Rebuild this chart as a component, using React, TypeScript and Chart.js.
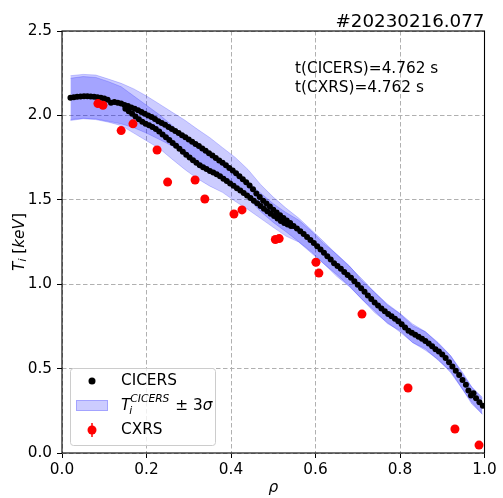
import React, { useEffect, useRef } from "react";
import { Chart, registerables } from "chart.js";
Chart.register(...registerables);

const FONT = '"DejaVu Sans", sans-serif';

const xTicks = [0, 0.2, 0.4, 0.6, 0.8, 1.0];
const yTicks = [0, 0.5, 1.0, 1.5, 2.0, 2.5];

const titleText = "#20230216.077";
const timeLabels = ["t(CICERS)=4.762 s", "t(CXRS)=4.762 s"];

// CICERS profile, channel A (upper row)
const cicersRhoA = [0.020,0.028,0.036,0.044,0.052,0.060,0.068,0.076,0.084,0.092,0.100,0.108,0.116,0.124,0.132,0.140,0.148,0.156,0.164,0.172,0.180,0.188,0.196,0.204,0.212,0.220,0.228,0.236,0.244,0.252,0.260,0.268,0.276,0.284,0.292,0.300,0.308,0.316,0.324,0.332,0.340,0.348,0.356,0.364,0.372,0.380,0.388,0.396,0.404,0.412,0.420,0.428,0.436,0.444,0.452,0.460,0.468,0.476,0.484,0.492,0.500,0.508,0.516,0.524,0.532,0.540,0.548,0.556,0.564,0.572,0.580,0.588,0.596,0.604,0.612,0.620,0.628,0.636,0.644,0.652,0.660,0.668,0.676,0.684,0.692,0.700,0.708,0.716,0.724,0.732,0.740,0.748,0.756,0.764,0.772,0.780,0.788,0.796,0.804,0.812,0.820,0.828,0.836,0.844,0.852,0.860,0.868,0.876,0.884,0.892,0.900,0.908,0.916,0.924,0.932,0.940,0.948,0.956,0.962,0.968,0.974,0.980,0.988,0.996];
const cicersTiA = [2.105,2.108,2.110,2.112,2.113,2.113,2.112,2.110,2.108,2.105,2.100,2.092,2.075,2.080,2.075,2.070,2.062,2.055,2.047,2.040,2.030,2.020,2.010,2.000,1.990,1.978,1.966,1.955,1.944,1.932,1.920,1.908,1.895,1.882,1.870,1.857,1.844,1.831,1.818,1.804,1.790,1.776,1.762,1.748,1.733,1.719,1.704,1.689,1.673,1.657,1.640,1.622,1.604,1.585,1.562,1.538,1.516,1.495,1.478,1.460,1.441,1.425,1.408,1.392,1.377,1.362,1.345,1.330,1.313,1.297,1.280,1.262,1.244,1.225,1.205,1.186,1.165,1.146,1.124,1.108,1.092,1.073,1.055,1.038,1.018,0.997,0.976,0.955,0.933,0.912,0.892,0.874,0.856,0.840,0.824,0.810,0.796,0.780,0.763,0.744,0.724,0.712,0.700,0.689,0.677,0.664,0.649,0.632,0.615,0.601,0.584,0.563,0.538,0.513,0.488,0.462,0.432,0.405,0.371,0.340,0.354,0.325,0.300,0.280];

// CICERS profile, channel B (lower row, core region)
const cicersRhoB = [0.150,0.158,0.166,0.174,0.182,0.190,0.198,0.206,0.214,0.222,0.230,0.238,0.246,0.254,0.262,0.270,0.278,0.286,0.294,0.302,0.310,0.318,0.326,0.334,0.342,0.350,0.358,0.366,0.374,0.382,0.390,0.398,0.406,0.414,0.422,0.430,0.438,0.446,0.454,0.462,0.470,0.478,0.486,0.494,0.502,0.510,0.518,0.526,0.534,0.542];
const cicersTiB = [2.040,2.025,2.010,1.993,1.977,1.962,1.950,1.942,1.932,1.920,1.905,1.887,1.870,1.855,1.837,1.820,1.803,1.785,1.767,1.750,1.735,1.720,1.705,1.693,1.682,1.671,1.661,1.651,1.639,1.625,1.611,1.597,1.583,1.568,1.555,1.541,1.526,1.511,1.495,1.480,1.463,1.447,1.432,1.418,1.404,1.389,1.375,1.362,1.353,1.345];

// CXRS
const cxrsRho = [0.085,0.097,0.140,0.168,0.225,0.250,0.315,0.338,0.407,0.426,0.505,0.514,0.601,0.608,0.710,0.819,0.930,0.987];
const cxrsTi = [2.07,2.06,1.91,1.95,1.795,1.605,1.617,1.505,1.416,1.44,1.265,1.27,1.13,1.066,0.823,0.385,0.142,0.047];

// ±3σ bands
const bandRho = [0.02,0.05,0.08,0.11,0.14,0.17,0.20,0.23,0.26,0.29,0.32,0.35,0.38,0.41,0.44,0.47,0.50,0.53,0.56,0.59,0.62,0.65,0.68,0.71,0.74,0.77,0.80,0.83,0.86,0.89,0.92,0.95,0.97,0.995];
const bandAHi = [2.235,2.243,2.239,2.215,2.19,2.157,2.115,2.068,2.02,1.973,1.919,1.868,1.809,1.751,1.68,1.591,1.516,1.451,1.392,1.322,1.251,1.177,1.106,1.031,0.952,0.883,0.827,0.764,0.719,0.655,0.576,0.47,0.39,0.33];
const bandALo = [1.975,1.983,1.979,1.965,1.95,1.927,1.895,1.858,1.82,1.773,1.729,1.678,1.629,1.571,1.51,1.431,1.366,1.311,1.252,1.192,1.121,1.047,0.986,0.911,0.832,0.773,0.717,0.654,0.609,0.555,0.476,0.37,0.29,0.23];
const bandBHi = [2.22,2.23,2.225,2.20,2.17,2.115,2.06,2.005,1.942,1.871,1.806,1.761,1.714,1.661,1.603,1.54,1.477,1.425,1.38,1.315,1.24,1.178,1.11,1.02,0.952,0.877,0.825,0.754,0.718,0.65,0.575,0.46,0.39,0.32];
const bandBLo = [1.97,1.98,1.975,1.96,1.94,1.895,1.85,1.805,1.742,1.681,1.626,1.581,1.544,1.491,1.443,1.39,1.337,1.285,1.25,1.185,1.12,1.058,0.99,0.91,0.842,0.767,0.725,0.654,0.618,0.55,0.485,0.37,0.30,0.23];

const pts = (xs: number[], ys: number[]) => xs.map((x, i) => ({ x, y: ys[i] }));

const BAND_FILL = "rgba(0,0,255,0.2)";

const overlay = {
  id: "overlay",
  afterDraw(chart: any) {
    const { ctx, chartArea: a } = chart;
    ctx.save();
    // frame
    ctx.strokeStyle = "#000";
    ctx.lineWidth = 1.1;
    ctx.strokeRect(a.left, a.top, a.right - a.left, a.bottom - a.top);

    ctx.fillStyle = "#000";
    // title
    ctx.font = `18.3px ${FONT}`;
    ctx.textAlign = "right";
    ctx.textBaseline = "alphabetic";
    ctx.fillText(titleText, a.right, a.top - 4);

    // time annotations
    ctx.font = `15.3px ${FONT}`;
    ctx.textAlign = "left";
    ctx.fillText(timeLabels[0], 295, 73);
    ctx.fillText(timeLabels[1], 295, 92);

    // x label
    ctx.font = `italic 15.3px ${FONT}`;
    ctx.textAlign = "center";
    ctx.textBaseline = "middle";
    ctx.fillText("ρ", (a.left + a.right) / 2, 488);

    // y label: T_i [keV]
    ctx.save();
    ctx.translate(20, (a.top + a.bottom) / 2);
    ctx.rotate(-Math.PI / 2);
    const parts: [string, string, number][] = [
      ["T", `italic 15.3px ${FONT}`, 0],
      ["i", `italic 10.7px ${FONT}`, 3.5],
      [" [", `15.3px ${FONT}`, 0],
      ["keV", `italic 15.3px ${FONT}`, 0],
      ["]", `15.3px ${FONT}`, 0],
    ];
    let total = 0;
    for (const [t, f] of parts) { ctx.font = f; total += ctx.measureText(t).width; }
    let cx = -total / 2;
    ctx.textAlign = "left";
    ctx.textBaseline = "middle";
    for (const [t, f, dy] of parts) {
      ctx.font = f;
      ctx.fillText(t, cx, dy);
      cx += ctx.measureText(t).width;
    }
    ctx.restore();

    // legend
    const lx = 70, ly = 368, lw = 145, lh = 77;
    ctx.beginPath();
    if ((ctx as any).roundRect) (ctx as any).roundRect(lx + 0.5, ly + 0.5, lw, lh, 3);
    else ctx.rect(lx + 0.5, ly + 0.5, lw, lh);
    ctx.fillStyle = "rgba(255,255,255,0.8)";
    ctx.fill();
    ctx.strokeStyle = "#cccccc";
    ctx.lineWidth = 1;
    ctx.stroke();

    const tx = 121;
    const rows = [381, 406, 430];
    // CICERS marker
    ctx.fillStyle = "#000";
    ctx.beginPath();
    ctx.arc(92, rows[0], 3.5, 0, Math.PI * 2);
    ctx.fill();
    ctx.font = `15.3px ${FONT}`;
    ctx.textAlign = "left";
    ctx.textBaseline = "middle";
    ctx.fillText("CICERS", tx, rows[0]);

    // band patch
    ctx.fillStyle = BAND_FILL;
    ctx.fillRect(76, 400, 32, 11);
    ctx.strokeStyle = BAND_FILL;
    ctx.strokeRect(76.5, 400.5, 31, 10);
    ctx.fillStyle = "#000";
    let px = tx;
    ctx.font = `italic 15.3px ${FONT}`;
    ctx.fillText("T", px, rows[1]);
    px += ctx.measureText("T").width - 1;
    ctx.font = `italic 10.7px ${FONT}`;
    ctx.fillText("i", px, rows[1] + 5);
    ctx.fillText("CICERS", px + 1, rows[1] - 7);
    px += ctx.measureText("CICERS").width + 2;
    ctx.font = `15.3px ${FONT}`;
    ctx.fillText(" ± 3", px, rows[1]);
    px += ctx.measureText(" ± 3").width;
    ctx.font = `italic 15.3px ${FONT}`;
    ctx.fillText("σ", px, rows[1]);

    // CXRS marker with error bar
    ctx.strokeStyle = "#ff0000";
    ctx.lineWidth = 1.5;
    ctx.beginPath();
    ctx.moveTo(92, rows[2] - 7);
    ctx.lineTo(92, rows[2] + 7);
    ctx.stroke();
    ctx.fillStyle = "#ff0000";
    ctx.beginPath();
    ctx.arc(92, rows[2], 4.5, 0, Math.PI * 2);
    ctx.fill();
    ctx.fillStyle = "#000";
    ctx.font = `15.3px ${FONT}`;
    ctx.fillText("CXRS", tx, rows[2]);

    ctx.restore();
  },
};

export default function App() {
  const ref = useRef<HTMLCanvasElement | null>(null);
  useEffect(() => {
    if (!ref.current) return;
    const bandLine = (data: any[], fill: any) => ({
      type: "line" as const,
      data,
      showLine: true,
      pointRadius: 0,
      borderWidth: 1,
      borderColor: BAND_FILL,
      backgroundColor: BAND_FILL,
      fill,
      tension: 0,
    });
    const gridCommon = {
      color: "#b0b0b0",
      lineWidth: 1,
      tickColor: "#000",
      tickLength: 5,
      tickWidth: 1,
      tickBorderDash: [],
      borderDash: [4.5, 2.5],
    };
    const chart = new Chart(ref.current, {
      type: "scatter",
      data: {
        datasets: [
          {
            label: "CXRS",
            data: pts(cxrsRho, cxrsTi),
            pointRadius: 4.5,
            backgroundColor: "#ff0000",
            borderWidth: 0,
          },
          {
            label: "CICERS",
            data: [...pts(cicersRhoA, cicersTiA), ...pts(cicersRhoB, cicersTiB)],
            pointRadius: 3,
            backgroundColor: "#000",
            borderWidth: 0,
          },
          { label: "bandAHi", ...bandLine(pts(bandRho, bandAHi), "+1") },
          { label: "bandALo", ...bandLine(pts(bandRho, bandALo), false) },
          { label: "bandBHi", ...bandLine(pts(bandRho, bandBHi), "+1") },
          { label: "bandBLo", ...bandLine(pts(bandRho, bandBLo), false) },
        ] as any,
      },
      options: {
        animation: false,
        responsive: false,
        events: [],
        layout: { padding: { top: 31, right: 18.5, left: 0, bottom: 0 } },
        plugins: { legend: { display: false }, tooltip: { enabled: false }, title: { display: false } },
        scales: {
          x: {
            type: "linear",
            min: 0,
            max: 1,
            afterBuildTicks: (s: any) => { s.ticks = xTicks.map((v) => ({ value: v })); },
            afterFit: (s: any) => { s.height = 45; },
            ticks: {
              color: "#000",
              padding: 3,
              font: { family: FONT, size: 15.3 },
              callback: (v: any) => Number(v).toFixed(1),
              maxRotation: 0,
            },
            grid: gridCommon as any,
            border: { display: false, dash: [4.5, 2.5] },
          },
          y: {
            type: "linear",
            min: 0,
            max: 2.5,
            afterBuildTicks: (s: any) => { s.ticks = yTicks.map((v) => ({ value: v })); },
            afterFit: (s: any) => { s.width = 62; },
            ticks: {
              color: "#000",
              padding: 5,
              font: { family: FONT, size: 15.3 },
              callback: (v: any) => Number(v).toFixed(1),
            },
            grid: gridCommon as any,
            border: { display: false, dash: [4.5, 2.5] },
          },
        },
      } as any,
      plugins: [overlay],
    });
    return () => chart.destroy();
  }, []);
  return (
    <div style={{ position: "absolute", left: 0, top: 0, width: 503, height: 498, background: "#fff" }}>
      <canvas ref={ref} width={503} height={498} style={{ display: "block" }} />
    </div>
  );
}
